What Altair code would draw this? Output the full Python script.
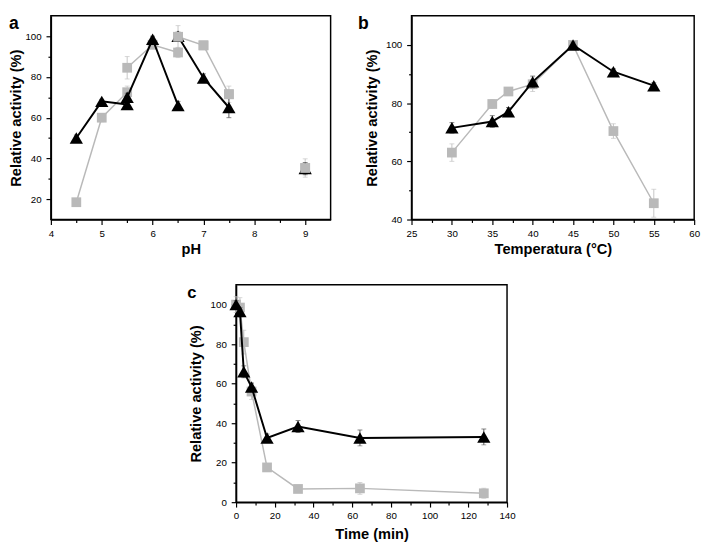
import altair as alt
import pandas as pd

# ---------------- Panel a : pH ----------------
ph_x = [4.5, 5, 5.5, 5.5, 6, 6.5, 6.5, 7, 7.5, 9]
ph_seg = [1, 1, 1, 2, 2, 2, 3, 3, 3, 4]
ph_black = [50, 68, 66.5, 70, 98.5, 66, 100, 79.5, 65, 35]
ph_black_err = [1.5, 1, 2, 2, 1.5, 2, 2, 2, 5, 3]
ph_gray = [18.5, 60, 72.5, 84.5, 95.8, 92, 99.7, 95.5, 71.5, 35.3]
ph_gray_err = [1, 2, 3, 5.5, 2, 2.5, 5.5, 1.5, 4, 4.5]
ph_xticks = [4, 5, 6, 7, 8, 9]
ph_xminor = [4.5, 5.5, 6.5, 7.5, 8.5]
ph_yticks = [20, 40, 60, 80, 100]
ph_yminor = [30, 50, 70, 90]

# ---------------- Panel b : temperature ----------------
t_x = [30, 35, 37, 40, 45, 50, 55]
t_seg = [1, 1, 1, 1, 1, 1, 1]
t_black = [71.5, 73.7, 77, 87.3, 100, 90.8, 86]
t_black_err = [1.8, 2, 1.5, 2, 1, 1, 1]
t_gray = [63, 79.7, 84, 86.5, 100, 70.4, 45.6]
t_gray_err = [3, 1.5, 1, 2.5, 1, 2.5, 4.8]
t_xticks = [25, 30, 35, 40, 45, 50, 55, 60]
t_xminor = [27.5, 32.5, 37.5, 42.5, 47.5, 52.5, 57.5]
t_yticks = [40, 60, 80, 100]
t_yminor = [50, 70, 90]

# ---------------- Panel c : time ----------------
m_x = [0, 2, 4, 8, 16, 32, 64, 128]
m_seg = [1, 1, 1, 1, 1, 1, 1, 1]
m_black = [100, 96.5, 66, 58.3, 32.5, 38.3, 32.5, 33]
m_black_err = [2, 2, 3, 2, 2, 3, 4, 4]
m_gray = [100, 98.5, 81, 56, 17.6, 6.7, 7, 4.5]
m_gray_err = [4, 5, 6, 4, 1.5, 1, 3, 2.5]
m_xticks = [0, 20, 40, 60, 80, 100, 120, 140]
m_xminor = [10, 30, 50, 70, 90, 110, 130]
m_yticks = [0, 20, 40, 60, 80, 100]
m_yminor = [10, 30, 50, 70, 90]

BLACK = "#000000"
GRAY = "#b9b9b9"
LABEL_FONT = "Liberation Sans, Arial"
TITLE_FONT = "Liberation Sans, Arial"


def make_df(xs, segs, ys, errs):
    return pd.DataFrame({
        "x": xs, "seg": segs, "y": ys,
        "lo": [v - e for v, e in zip(ys, errs)],
        "hi": [v + e for v, e in zip(ys, errs)],
    })


def panel(xs, segs, yb, eb, yg, eg, xdom, ydom, xt, xm, yt, ym,
          xtitle, w, h, letter, lx, ly, lsize, ytp, xtp):
    dfb = make_df(xs, segs, yb, eb)
    dfg = make_df(xs, segs, yg, eg)
    xs_ = alt.Scale(domain=xdom, nice=False, zero=False)
    ys_ = alt.Scale(domain=ydom, nice=False, zero=False)

    def X(axis=None, field="x"):
        return alt.X(f"{field}:Q", scale=xs_, axis=axis)

    def Y(field="y", axis=None):
        return alt.Y(f"{field}:Q", scale=ys_, axis=axis)

    base_b = alt.Chart(dfb)
    base_g = alt.Chart(dfg)

    major_x = alt.Axis(values=xt, title=xtitle, orient="bottom", tickSize=5,
                       labelPadding=4, minExtent=19, maxExtent=19,
                       titlePadding=xtp, grid=False, format="d",
                       labelFlush=False)
    major_y = alt.Axis(values=yt, title="Relative activity (%)",
                       orient="left", tickSize=5, labelPadding=5,
                       minExtent=26, maxExtent=26, titlePadding=ytp,
                       grid=False, format="d")
    minor_x = alt.Axis(values=xm, labels=False, orient="bottom", tickSize=3,
                       domain=False, title=None, grid=False)
    minor_y = alt.Axis(values=ym, labels=False, orient="left", tickSize=3,
                       domain=False, title=None, grid=False)

    minor_layer = base_b.mark_point(opacity=0).encode(
        x=X(minor_x), y=Y(axis=minor_y))
    major_layer = base_b.mark_point(opacity=0).encode(
        x=X(major_x), y=Y(axis=major_y))

    def series(base, color, ecolor, shape, size, lw):
        rule = base.mark_rule(color=ecolor, strokeWidth=1).encode(
            x=X(), y=Y("lo"), y2="hi:Q")
        cap_lo = base.mark_tick(color=ecolor, orient="horizontal", size=5,
                                thickness=1).encode(x=X(), y=Y("lo"))
        cap_hi = base.mark_tick(color=ecolor, orient="horizontal", size=5,
                                thickness=1).encode(x=X(), y=Y("hi"))
        line = base.mark_line(color=color, strokeWidth=lw).encode(
            x=X(), y=Y(), detail="seg:N")
        pts = base.mark_point(shape=shape, filled=True, opacity=1,
                              color=color, size=size).encode(x=X(), y=Y())
        return [rule, cap_lo, cap_hi, line, pts]

    layers = [minor_layer, major_layer]
    layers += series(base_g, GRAY, "#c4c4c4", "square", 100, 1.5)
    layers += series(base_b, BLACK, "#555555", "triangle-up", 185, 2)
    if letter == "a":
        # gray squares lie over the black triangles at pH 6.5 (upper) and 9
        top_g = base_g.transform_filter("datum.seg >= 3").mark_point(
            shape="square", filled=True, opacity=1, color=GRAY, size=100
        ).encode(x=X(), y=Y())
        layers.append(top_g)
    txt = alt.Chart(pd.DataFrame({"t": [letter]})).mark_text(
        align="left", baseline="top", fontSize=lsize,
        fontWeight="bold", font=TITLE_FONT, color="black"
    ).encode(x=alt.value(lx), y=alt.value(ly), text="t:N")
    layers.append(txt)

    return alt.layer(*layers).resolve_axis(
        x="independent", y="independent"
    ).properties(width=w, height=h)


pa = panel(ph_x, ph_seg, ph_black, ph_black_err, ph_gray, ph_gray_err,
           [4, 9.5], [10, 110], ph_xticks, ph_xminor, ph_yticks, ph_yminor,
           "pH", 287, 209, "a", -43, 0, 18, 2, 4)
pb = panel(t_x, t_seg, t_black, t_black_err, t_gray, t_gray_err,
           [25, 60], [40, 110], t_xticks, t_xminor, t_yticks, t_yminor,
           "Temperatura (°C)", 290, 209, "b", -55, 0, 18, 6.5, 4)
pc = panel(m_x, m_seg, m_black, m_black_err, m_gray, m_gray_err,
           [0, 140], [0, 110], m_xticks, m_xminor, m_yticks, m_yminor,
           "Time (min)", 278, 223, "c", -50, 0, 17, 7, 6)

spacer = alt.Chart(pd.DataFrame({"v": [0]})).mark_point(opacity=0).encode(
    x=alt.value(0), y=alt.value(0)
).properties(width=138, height=1,
             view=alt.ViewBackground(stroke="transparent"))

top = alt.hconcat(pa, pb, spacing=26)
bottom = alt.hconcat(spacer, pc, spacing=0)
chart = alt.vconcat(top, bottom, spacing=24).properties(
    padding=0
).configure_view(
    stroke="black", strokeWidth=1.5
).configure_axis(
    domainColor="black", domainWidth=1.5, tickColor="black", tickWidth=1.2,
    labelFont=LABEL_FONT, labelFontSize=10, labelColor="black",
    titleFont=TITLE_FONT, titleFontSize=15, titleFontWeight="bold",
    titleColor="black", grid=False
)

chart.save("out.html", embed_options={"renderer": "svg", "actions": False})
